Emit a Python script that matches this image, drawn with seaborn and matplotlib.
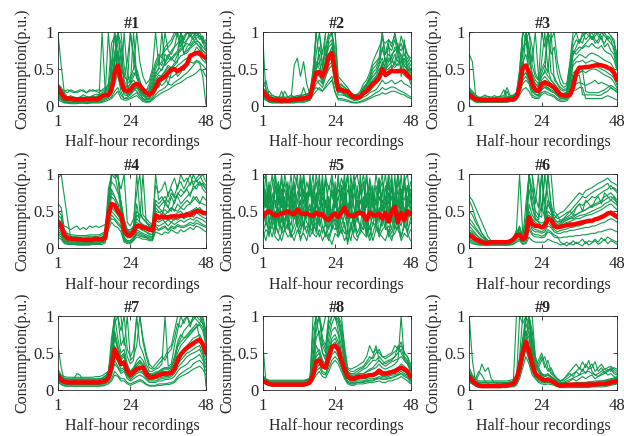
import numpy as np
import pandas as pd
import matplotlib
matplotlib.use("Agg")
import matplotlib.pyplot as plt
import seaborn as sns

# ==========================================================
# Data (consumption in p.u. x100, 48 half-hour recordings)
# ==========================================================

slots = list(range(1, 49))
titles = ["#1", "#2", "#3", "#4", "#5", "#6", "#7", "#8", "#9"]
x_ticks = [1, 24, 48]
y_ticks = [0, 0.5, 1]
y_tick_labels = ["0", "0.5", "1"]

centroid_1 = [25, 17, 11, 10, 10, 9, 9, 9, 9, 9, 9, 10, 9, 10, 13, 15,
              15, 22, 45, 55, 35, 22, 20, 22, 28, 30, 28, 22, 18, 15, 18, 25,
              35, 37, 40, 45, 50, 50, 47, 50, 53, 57, 68, 70, 72, 72, 68, 65]
centroid_2 = [20, 15, 10, 9, 8, 8, 7, 8, 7, 8, 9, 9, 10, 10, 11, 12,
              30, 45, 46, 40, 50, 68, 72, 45, 22, 22, 20, 20, 15, 12, 12, 13,
              17, 20, 25, 30, 33, 38, 50, 42, 45, 48, 47, 47, 48, 47, 42, 38]
centroid_3 = [15, 12, 9, 9, 8, 8, 8, 8, 8, 8, 8, 8, 8, 9, 9, 12,
              25, 52, 55, 45, 30, 22, 20, 30, 32, 30, 28, 25, 20, 15, 14, 14,
              15, 25, 45, 52, 52, 53, 53, 54, 55, 56, 55, 54, 52, 50, 45, 35]
centroid_4 = [35, 30, 18, 13, 13, 12, 12, 12, 11, 11, 11, 11, 13, 12, 12, 14,
              45, 60, 58, 50, 45, 25, 18, 17, 22, 30, 30, 28, 27, 25, 24, 45,
              42, 43, 42, 42, 43, 43, 43, 44, 44, 46, 45, 48, 50, 50, 48, 47]
centroid_5 = [42, 48, 50, 47, 44, 45, 47, 48, 50, 47, 46, 52, 48, 46, 47, 45,
              44, 48, 45, 46, 40, 38, 44, 47, 42, 48, 55, 45, 44, 43, 47, 48,
              46, 38, 48, 45, 44, 47, 40, 48, 36, 50, 56, 35, 48, 38, 50, 46]
centroid_6 = [18, 15, 12, 10, 8, 7, 7, 8, 8, 8, 8, 8, 8, 9, 12, 17,
              18, 12, 15, 42, 33, 30, 30, 28, 30, 40, 38, 30, 28, 29, 30, 31,
              32, 32, 33, 34, 35, 36, 37, 37, 39, 40, 42, 44, 47, 48, 45, 42]
centroid_7 = [20, 13, 11, 10, 10, 10, 10, 10, 10, 10, 10, 10, 10, 10, 11, 12,
              16, 32, 55, 45, 35, 37, 25, 20, 24, 28, 30, 30, 22, 17, 17, 18,
              20, 21, 22, 22, 23, 28, 40, 48, 53, 57, 60, 63, 66, 68, 62, 50]
centroid_8 = [12, 10, 8, 7, 7, 7, 7, 7, 7, 7, 7, 7, 7, 7, 8, 10,
              20, 38, 40, 32, 30, 45, 58, 60, 55, 40, 28, 18, 15, 15, 17, 18,
              18, 19, 20, 20, 22, 26, 22, 22, 23, 24, 25, 28, 30, 28, 25, 18]
centroid_9 = [18, 12, 8, 6, 5, 5, 5, 5, 5, 5, 5, 6, 6, 7, 8, 15,
              30, 50, 65, 52, 35, 22, 18, 15, 13, 14, 12, 10, 7, 6, 6, 7,
              7, 7, 7, 7, 7, 7, 7, 7, 7, 8, 8, 8, 9, 10, 11, 12]

days_1 = [
    "98 55 18 12 10 9 9 10 9 10 10 11 12 14 16 18 30 85 95 40 25 20 22 30 35 30 20 15 12 15 25 40 45 50 60 70 65 60 70 75 80 90 95 90 85 80 70 60",
    "20 15 8 6 5 5 5 6 6 5 5 6 7 8 100 20 12 20 60 100 70 30 15 18 25 20 15 10 8 10 20 30 25 35 40 30 45 50 40 45 55 60 65 70 80 75 70 65",
    "30 25 15 12 14 12 10 12 15 13 12 14 16 15 18 20 25 45 100 80 50 40 60 100 70 45 30 25 20 30 45 60 70 65 80 85 90 100 95 80 90 100 95 100 90 85 75 70",
    "15 10 6 5 5 5 4 5 5 5 5 5 6 6 8 10 12 15 30 45 20 10 12 15 20 25 18 10 8 8 12 20 30 28 32 40 38 42 45 50 48 55 60 58 62 60 55 50",
    "22 18 12 10 10 10 9 10 10 11 10 12 10 11 12 14 18 60 100 60 30 100 45 30 40 50 35 20 18 22 35 50 60 55 70 65 75 80 85 90 70 80 85 95 100 90 95 80",
    "10 8 5 4 4 4 4 4 4 4 4 5 5 5 6 8 10 12 20 25 15 10 10 12 15 18 12 8 6 6 10 15 20 22 25 30 28 32 35 38 42 45 50 55 60 58 40 2",
    "28 24 20 22 20 18 20 22 20 18 22 20 21 22 20 22 30 50 70 100 60 40 35 40 50 100 60 40 30 35 50 100 55 60 100 75 70 80 100 85 95 100 100 90 100 95 90 85",
    "18 12 8 7 7 6 6 7 7 7 8 7 8 9 10 12 15 25 45 70 35 22 18 20 28 32 25 18 12 14 22 35 42 40 48 55 52 58 62 68 70 72 78 82 85 80 75 72",
    "25 20 14 12 12 12 11 12 12 12 12 13 13 14 15 18 22 35 55 100 85 35 25 30 100 40 30 22 18 20 30 45 50 100 55 60 65 70 75 100 85 90 100 100 95 100 90 85",
    "12 9 6 5 5 5 5 5 5 5 6 6 6 7 8 10 12 18 35 55 28 15 14 16 22 26 20 14 10 10 16 28 35 38 42 48 45 50 55 58 62 65 68 72 70 68 62 58",
    "15 12 20 18 22 20 18 20 | 22 18 20 22 20 18 22 25 | 20 30 70 100 100 55 30 35 | 45 40 28 22 20 25 40 55 | 65 70 75 80 85 95 100 100 | 90 100 95 100 100 95 85 90",
    "8 6 4 4 3 3 3 4 | 4 3 4 4 4 4 5 6 | 8 10 15 20 10 8 8 10 | 12 14 10 6 5 5 8 12 | 15 18 20 22 25 28 30 32 | 35 38 40 42 45 50 48 40",
    "20 15 10 9 9 8 8 9 | 8 9 9 10 10 11 12 15 | 100 40 60 75 40 28 25 100 | 60 38 28 20 15 18 28 42 | 52 48 58 65 62 68 72 78 | 80 85 82 88 92 95 88 75",
    "18 14 10 8 8 8 7 8 | 8 8 8 9 9 10 11 14 | 16 20 40 50 25 18 16 18 | 24 28 22 16 12 12 18 30 | 38 42 46 52 50 55 60 100 | 72 75 80 85 88 86 80 75",
]
days_2 = [
    "95 20 12 10 8 8 7 8 7 8 8 9 10 10 11 12 40 60 50 45 60 90 100 50 22 20 18 15 12 10 10 12 18 22 28 35 40 45 60 50 55 60 58 55 60 50 45 40",
    "20 15 10 8 8 7 7 7 7 8 55 65 40 60 30 15 30 45 40 35 45 70 80 40 20 18 15 12 10 8 8 10 15 18 20 25 30 35 45 40 42 45 48 50 45 42 38 35",
    "15 10 6 5 5 5 4 5 5 5 5 6 6 7 8 10 25 100 60 40 100 100 100 60 30 25 22 18 14 12 12 15 25 30 40 55 60 65 100 70 80 75 90 70 95 80 70 60",
    "25 35 15 12 10 12 10 20 12 10 12 12 14 12 15 18 35 40 45 30 55 60 65 35 22 25 20 15 12 10 12 14 20 25 30 35 40 50 55 65 60 70 75 80 65 70 60 50",
    "18 12 8 8 7 7 6 7 6 7 7 8 8 9 10 11 20 30 35 30 40 55 60 30 15 15 14 12 10 8 8 9 12 14 18 20 22 28 35 30 32 35 30 32 35 30 28 25",
    "22 18 20 15 12 10 12 10 12 15 12 14 12 15 16 18 50 100 100 70 100 100 100 100 40 35 30 25 18 15 15 20 30 35 45 60 70 80 90 85 90 85 95 80 75 85 70 65",
    "10 8 5 4 4 4 4 4 4 4 4 5 5 5 6 8 15 20 25 20 28 35 40 20 10 10 9 8 6 5 5 6 8 10 12 15 18 20 25 22 24 26 25 22 20 18 15 12",
    "20 14 10 9 10 9 8 9 9 10 10 11 12 12 14 15 35 70 100 55 80 100 100 75 25 24 22 20 15 12 13 15 22 28 35 45 50 60 100 55 65 60 70 60 65 55 50 45",
    "30 25 8 6 6 6 6 6 6 6 7 7 7 8 9 10 30 35 30 25 40 50 55 30 18 20 16 14 10 8 9 11 15 20 25 30 35 40 50 45 85 50 60 85 40 90 45 30",
    "15 10 12 10 8 9 20 10 8 9 10 10 12 25 12 12 28 45 80 60 70 85 90 45 20 22 18 16 12 10 10 12 18 20 28 32 38 42 55 48 50 55 52 58 62 55 48 42",
    "12 9 7 6 6 6 5 6 | 6 6 6 7 7 8 9 10 | 45 100 100 100 100 100 100 100 | 30 28 25 20 15 12 12 14 | 22 30 38 50 55 65 75 70 | 90 80 100 75 85 70 65 55",
    "25 20 15 14 13 12 12 12 | 12 12 13 14 15 15 16 18 | 30 50 60 40 65 80 85 50 | 28 30 25 22 18 15 16 18 | 25 30 35 40 45 55 65 50 | 60 65 55 70 50 65 55 48",
    "10 8 6 5 5 5 5 5 | 5 5 5 6 6 6 7 8 | 20 25 22 20 25 30 35 18 | 8 8 7 6 5 4 4 5 | 6 8 10 12 14 15 18 16 | 18 20 20 18 16 15 12 10",
    "18 13 9 8 8 8 7 8 | 8 8 9 9 10 10 11 13 | 38 55 70 50 75 95 100 60 | 24 22 20 18 14 11 11 13 | 20 25 32 40 45 55 80 60 | 70 65 80 75 70 60 52 45",
]
days_3 = [
    "70 60 15 10 9 9 8 9 8 9 9 9 10 10 11 12 30 60 70 50 35 25 22 35 40 35 30 25 20 15 14 15 30 55 60 60 62 58 60 62 60 58 55 55 52 50 45 35",
    "15 12 8 7 7 7 7 7 7 7 7 8 8 8 9 12 35 100 100 80 40 30 25 60 100 50 35 30 25 18 16 18 40 80 90 85 100 90 95 100 90 85 95 80 85 75 70 50",
    "18 14 10 9 9 10 9 10 12 10 9 10 20 10 11 14 20 40 45 35 22 18 18 25 28 25 22 20 15 12 12 12 18 35 40 42 15 15 15 15 15 14 15 18 20 25 22 20",
    "20 18 12 10 12 15 12 10 10 12 14 22 12 12 14 16 45 100 90 100 55 40 35 40 45 100 45 40 30 22 20 22 45 70 80 90 85 100 95 90 100 95 90 100 90 85 80 60",
    "12 10 6 5 5 5 5 5 5 5 5 6 6 6 7 9 20 30 35 30 15 12 12 18 20 18 16 14 10 8 8 9 15 25 30 32 30 28 30 32 35 30 32 30 28 25 22 18",
    "25 20 15 12 12 12 13 12 14 12 13 14 25 14 15 18 50 100 100 60 45 35 30 45 55 45 100 35 30 25 22 24 50 75 70 75 80 85 90 95 85 90 100 95 90 95 85 70",
    "15 12 8 8 8 7 8 8 8 8 8 8 9 9 10 12 25 50 55 45 25 20 18 28 32 30 25 22 18 14 13 14 25 45 48 50 52 50 52 55 55 52 50 48 45 42 38 28",
    "18 15 10 9 10 9 9 10 9 10 10 10 11 12 12 14 28 45 100 40 28 22 20 30 35 32 28 25 20 15 14 16 35 60 65 70 68 65 70 72 70 68 65 62 60 58 50 40",
    "10 8 5 5 5 5 5 5 5 5 5 5 5 6 6 8 15 22 25 20 12 10 10 15 18 15 14 12 8 6 6 7 12 20 22 25 25 10 10 10 10 10 10 12 14 12 10 8",
    "22 18 12 10 10 11 10 11 11 11 12 12 12 13 14 16 40 70 100 75 60 100 40 50 60 100 70 80 45 30 25 28 55 90 100 85 95 100 100 90 95 100 90 85 95 90 75 55",
    "16 13 9 8 8 8 8 8 | 8 8 8 9 9 9 10 13 | 30 100 100 100 80 45 35 100 | 80 100 90 100 60 40 30 30 | 60 100 100 100 100 100 100 100 | 100 100 100 100 100 95 90 65",
    "14 11 8 7 7 7 7 7 | 7 7 7 7 8 8 9 11 | 22 35 40 32 20 16 15 22 | 25 22 20 18 14 10 10 11 | 20 40 45 45 48 20 18 18 | 18 18 20 22 25 28 25 22",
    "20 16 11 10 10 10 10 10 | 10 10 10 11 11 12 13 15 | 35 80 85 70 40 30 28 40 | 48 40 35 30 24 18 17 19 | 40 70 75 80 78 82 80 85 | 80 78 82 75 72 70 62 48",
    "13 10 7 6 6 6 6 6 | 6 6 6 7 7 7 8 10 | 22 40 45 38 20 15 14 22 | 26 24 20 18 14 10 10 11 | 20 40 42 45 48 45 48 50 | 50 48 45 42 40 38 32 24",
]
days_4 = [
    "95 100 70 40 15 12 12 12 11 12 12 12 13 12 14 16 50 80 70 60 45 20 15 15 20 30 28 25 22 20 18 40 40 42 45 40 42 45 48 50 45 48 50 52 55 50 48 45",
    "30 28 15 12 12 11 11 11 10 10 11 11 12 12 12 14 60 100 100 80 50 22 18 16 25 60 35 30 28 25 22 55 50 45 60 55 50 65 70 60 65 70 75 80 85 90 80 75",
    "35 30 30 28 25 28 30 25 28 25 30 28 30 28 30 32 45 60 55 45 40 30 25 25 30 35 32 30 30 28 30 60 55 50 45 50 55 50 60 55 60 65 60 70 65 60 70 65",
    "20 18 8 6 6 6 5 5 5 5 5 6 6 6 7 9 30 45 40 35 30 10 8 8 12 20 18 16 15 12 12 30 25 28 30 25 30 28 32 30 30 32 35 33 38 35 32 30",
    "50 45 20 15 15 14 15 14 13 14 14 13 15 14 15 18 70 100 95 100 60 40 25 20 30 100 50 40 35 30 28 100 65 70 60 75 80 70 85 90 80 90 100 85 95 100 90 85",
    "25 22 10 8 8 8 8 7 7 7 7 8 8 8 9 10 40 55 50 45 38 15 10 10 15 25 22 20 18 16 15 38 35 38 40 38 40 38 42 45 42 45 48 50 52 55 50 48",
    "40 35 18 15 14 14 13 13 13 13 13 14 14 14 15 18 55 75 70 60 55 30 22 20 25 40 35 32 30 28 25 50 48 50 52 48 55 52 50 55 52 58 60 65 70 62 60 58",
    "28 25 12 10 10 10 9 9 9 9 9 10 10 10 11 12 45 70 65 55 45 20 14 14 18 28 26 24 22 18 18 42 38 40 35 38 35 40 38 42 40 42 45 42 48 45 42 40",
    "15 12 6 5 5 5 4 4 4 4 4 5 5 5 5 7 25 35 30 28 22 8 6 6 10 15 14 12 12 10 10 22 20 18 22 20 25 22 20 25 22 25 28 25 30 28 25 22",
    "60 55 25 20 18 18 17 17 17 17 18 18 18 18 20 22 80 100 100 95 80 100 35 30 40 75 100 45 40 35 32 85 75 80 90 70 85 95 80 100 90 95 85 100 90 95 100 90",
    "33 30 15 12 12 12 12 12 | 11 11 11 12 12 12 13 15 | 50 100 100 100 55 25 18 18 | 22 45 40 100 35 30 28 60 | 55 60 65 55 70 60 75 70 | 75 80 70 85 80 90 85 80",
    "22 20 10 9 9 8 8 8 | 8 8 8 9 9 9 10 11 | 38 50 45 40 35 14 10 10 | 14 22 20 18 16 14 14 32 | 30 32 35 30 35 32 35 38 | 35 38 40 38 42 40 38 35",
    "45 40 22 18 16 16 15 15 | 15 15 16 16 16 16 18 20 | 65 90 85 75 65 35 25 22 | 30 50 45 40 35 32 30 65 | 60 65 70 62 75 68 72 80 | 75 82 88 90 92 85 88 80",
    "18 15 8 7 7 7 6 6 | 6 6 6 7 7 7 8 9 | 30 40 38 32 28 12 8 8 | 12 18 16 15 14 12 12 26 | 24 26 28 24 28 26 30 28 | 28 30 32 30 34 32 30 28",
]
days_5 = [
    "40 80 30 60 20 90 35 70 25 85 40 55 30 100 45 60 20 75 35 90 30 65 40 80 25 70 100 40 60 30 85 45 70 20 90 40 65 35 80 30 75 45 100 25 70 40 85 50",
    "60 30 90 45 100 35 70 25 80 40 65 30 95 50 75 20 85 45 60 100 35 70 30 90 50 40 75 20 85 55 35 100 30 70 45 85 25 95 40 60 35 90 30 70 50 100 30 75",
    "20 35 25 40 30 20 45 25 35 20 30 40 25 35 20 45 30 25 40 20 35 15 30 25 40 20 35 10 25 45 20 30 25 40 15 35 30 20 45 25 30 20 35 40 15 30 25 35",
    "70 55 85 60 75 90 65 80 55 70 85 60 100 70 55 80 65 90 60 75 55 85 70 60 80 65 90 55 70 85 60 75 90 60 70 55 85 65 75 100 60 80 55 90 70 65 85 70",
    "30 50 15 45 25 55 20 40 50 15 45 30 20 50 35 25 45 20 55 30 15 40 25 50 20 45 30 5 35 20 50 25 40 15 45 30 55 20 35 45 15 50 25 40 30 55 20 40",
    "50 100 45 75 40 60 95 45 70 50 90 45 60 80 40 100 50 65 45 85 60 40 95 55 70 45 60 100 40 75 55 85 45 100 60 40 70 95 50 65 85 40 70 55 100 45 65 90",
    "15 25 20 30 15 10 20 25 15 20 10 25 15 20 10 30 20 15 25 10 20 15 5 20 15 25 10 20 30 15 10 25 20 15 30 10 25 20 15 10 25 15 20 30 10 20 15 25",
    "85 60 70 100 55 80 60 90 65 100 55 75 85 60 90 70 100 55 80 65 90 60 75 55 90 70 55 80 65 100 70 60 85 55 95 70 60 80 100 55 90 65 75 100 60 85 55 80",
    "35 45 60 30 50 40 25 55 45 30 60 35 50 25 55 40 35 50 30 45 60 25 50 35 55 30 45 60 25 50 40 30 60 35 25 50 40 55 30 45 40 25 60 35 45 30 50 40",
    "45 70 35 55 65 30 80 50 35 60 75 40 55 30 70 85 40 55 100 45 30 60 50 75 35 85 45 30 100 55 40 65 50 30 75 60 35 70 55 40 100 35 60 45 80 35 70 55",
    "100 55 75 40 85 60 100 50 | 90 45 70 100 40 80 60 95 | 45 70 90 50 100 45 80 60 | 100 50 85 45 70 90 40 80 | 55 100 45 75 60 90 50 85 | 45 100 55 80 40 95 60 70",
    "25 10 30 15 35 20 10 25 | 30 15 20 35 10 25 30 15 | 25 35 15 30 20 10 25 35 | 15 30 20 25 10 35 15 20 | 30 25 10 20 35 15 25 30 | 20 10 30 25 15 35 20 10",
    "55 40 65 50 35 70 45 60 | 40 75 50 35 65 45 60 50 | 70 35 55 45 65 50 35 60 | 45 55 70 40 60 35 65 50 | 40 60 55 70 35 50 65 45 | 55 70 40 60 50 35 55 65",
    "90 100 60 85 100 70 55 100 | 75 60 100 85 70 100 65 90 | 60 100 75 55 95 80 100 70 | 65 95 80 100 55 90 100 75 | 100 70 85 60 100 75 90 65 | 100 85 65 100 75 90 100 60",
]
days_6 = [
    "70 65 55 45 35 25 15 10 8 8 8 8 8 9 10 20 30 15 20 100 60 40 35 30 35 60 50 35 30 32 35 38 40 42 45 48 50 52 55 58 60 62 65 70 72 75 70 65",
    "20 18 12 10 8 7 7 8 8 8 8 8 8 9 12 18 20 12 15 45 35 30 30 28 30 40 38 30 28 28 30 30 32 32 34 34 36 36 38 38 40 42 44 46 48 50 48 45",
    "10 8 6 5 5 4 4 4 4 4 4 4 4 5 6 10 12 6 8 25 18 15 15 14 15 22 20 15 14 14 15 15 16 16 17 17 18 18 19 20 20 22 22 24 25 26 24 22",
    "35 30 25 20 15 12 10 10 10 10 10 10 10 11 14 22 25 18 22 100 100 45 40 100 45 100 55 40 35 38 40 42 45 50 55 60 58 62 65 70 68 72 75 78 80 85 80 75",
    "15 12 10 8 7 6 6 7 7 7 7 7 7 8 10 15 18 10 12 35 25 22 22 20 22 30 28 22 20 20 22 22 24 24 25 26 27 28 28 30 30 32 34 35 38 40 38 35",
    "25 22 18 15 12 10 9 9 9 9 9 9 9 10 12 18 22 15 40 100 80 60 100 50 100 100 60 45 40 42 45 48 50 55 60 65 70 68 72 75 78 80 82 85 88 80 82 78",
    "12 10 8 6 5 5 5 5 5 5 5 5 5 6 8 12 15 8 10 30 20 18 18 16 18 25 22 18 16 8 5 8 5 10 6 8 12 6 10 8 12 8 14 10 15 12 10 8",
    "50 45 35 28 20 15 10 9 9 9 9 9 9 10 12 20 28 14 18 60 45 38 36 34 36 50 45 36 32 34 36 38 40 40 42 44 45 46 48 50 52 54 56 60 62 65 62 58",
    "18 15 10 8 7 6 6 6 6 6 6 6 6 7 9 14 16 9 12 40 28 25 24 22 25 35 30 25 22 24 25 26 28 28 30 30 32 34 35 36 38 40 42 45 48 50 46 42",
    "30 25 20 15 10 8 8 8 8 8 8 8 8 9 11 16 20 12 60 100 70 50 45 42 100 70 50 40 45 35 40 45 50 45 55 60 50 65 60 55 65 70 60 75 70 65 70 60",
    "65 55 40 30 20 14 10 9 | 9 9 9 9 9 10 13 25 | 100 20 25 100 100 70 55 100 | 60 100 100 50 45 48 50 55 | 60 65 70 75 72 78 80 82 | 85 88 90 92 95 90 88 85",
    "8 6 5 4 4 4 4 4 | 4 4 4 4 4 4 5 8 | 10 5 6 15 10 8 8 8 | 8 12 10 8 7 4 6 3 | 7 4 8 5 3 9 4 7 | 10 5 8 12 6 10 8 5",
    "22 20 15 12 10 8 8 8 | 8 8 8 8 8 9 11 17 | 20 13 30 80 55 40 38 60 | 40 65 55 38 35 36 38 40 | 42 44 46 48 50 52 55 56 | 58 60 62 65 68 70 66 62",
    "40 35 28 22 16 12 9 9 | 9 9 9 9 9 10 12 18 | 25 14 16 50 40 35 32 30 | 32 45 42 32 30 30 32 35 | 36 38 40 40 42 44 45 46 | 48 50 52 55 58 60 56 52",
]
days_7 = [
    "60 30 12 10 10 10 10 10 10 10 10 10 10 10 11 12 15 30 60 45 35 40 25 20 25 30 32 30 22 18 18 18 20 22 22 22 24 30 45 50 55 60 65 70 72 75 65 50",
    "18 12 10 9 9 15 22 20 12 9 9 9 9 9 10 11 15 40 100 70 50 55 35 25 30 40 45 40 30 20 20 22 25 28 30 28 30 40 60 70 80 85 90 95 100 100 90 70",
    "15 10 8 7 7 7 7 7 7 7 7 7 7 7 8 9 12 20 35 30 22 25 15 12 15 18 20 18 14 10 10 10 12 12 14 14 15 18 25 30 32 35 40 42 45 48 40 30",
    "25 18 15 14 14 14 14 14 14 14 14 14 14 14 15 16 20 60 100 100 60 70 45 35 40 100 60 50 35 25 25 28 30 35 100 32 35 60 80 100 90 100 85 100 95 90 100 80",
    "12 8 6 5 5 5 5 5 5 5 5 5 5 5 6 8 10 15 25 20 15 15 10 8 10 12 14 12 8 6 6 6 8 8 8 9 10 12 18 22 25 28 30 35 38 40 35 25",
    "20 15 12 12 12 12 12 12 12 12 12 12 12 12 13 15 18 35 70 55 40 45 28 22 28 35 38 35 25 20 20 20 22 25 25 25 28 35 50 60 65 70 75 80 85 88 80 60",
    "22 16 14 13 13 13 13 14 13 13 14 13 14 14 15 18 25 50 90 100 100 60 100 40 45 60 100 70 50 35 30 35 40 45 40 50 55 70 90 85 95 100 90 100 100 95 90 75",
    "15 10 9 8 8 8 8 8 8 8 8 8 8 8 9 10 14 25 45 38 28 30 20 16 20 24 26 24 18 14 14 15 16 17 18 18 20 25 35 40 45 50 52 55 58 60 50 40",
    "28 20 18 17 17 17 17 17 17 17 17 17 18 18 19 22 25 45 80 60 45 50 30 25 30 35 40 35 28 22 22 24 25 28 30 30 32 45 65 75 70 75 80 85 90 70 60 5",
    "10 7 5 5 5 5 5 5 5 5 5 5 5 5 5 6 8 12 20 18 12 12 8 6 8 10 12 10 7 5 5 5 6 6 7 7 8 10 15 18 20 22 25 28 30 32 28 20",
    "20 14 12 11 11 11 11 11 | 11 11 11 11 11 11 12 14 | 22 70 100 100 80 100 55 45 | 55 100 100 65 45 30 28 30 | 35 40 45 55 60 80 100 100 | 100 100 100 100 100 100 95 80",
    "14 10 8 7 7 7 7 7 | 7 7 7 7 7 7 8 9 | 12 22 40 32 25 28 18 14 | 18 22 24 22 16 12 12 12 | 14 15 16 16 18 22 30 35 | 40 45 48 50 52 55 45 35",
    "24 18 16 15 15 15 15 15 | 15 15 15 15 15 15 16 19 | 22 40 75 55 42 48 30 24 | 28 32 36 32 26 20 20 22 | 24 26 28 28 30 40 58 65 | 70 72 78 82 86 90 85 65",
    "16 11 10 9 9 9 9 9 | 9 9 9 9 9 9 10 11 | 15 28 55 42 32 35 22 18 | 22 26 30 28 20 16 16 16 | 18 20 20 20 22 28 40 48 | 52 56 60 62 65 68 55 45",
]
days_8 = [
    "65 12 8 7 7 7 7 7 7 7 7 7 7 7 8 10 30 60 50 35 30 60 80 85 75 50 30 18 15 15 17 18 18 19 20 20 22 25 22 22 23 24 25 28 30 28 25 18",
    "12 10 8 7 7 7 7 7 7 7 7 7 7 7 8 10 100 100 70 50 45 100 100 100 100 80 45 25 20 18 20 22 22 24 26 28 30 35 30 28 30 32 35 40 100 40 35 25",
    "15 12 10 9 9 9 9 9 9 9 9 9 9 9 10 12 20 40 45 35 30 45 60 65 55 40 25 16 12 12 14 15 15 16 18 18 20 22 20 20 20 22 22 25 28 25 22 16",
    "10 8 6 5 5 5 5 5 5 5 5 5 5 5 6 8 15 25 30 22 20 30 40 45 40 30 18 10 8 8 10 10 10 11 12 12 14 15 14 14 15 16 18 20 22 20 18 12",
    "18 14 12 12 12 12 12 12 12 12 12 12 12 12 13 15 40 80 100 60 50 90 100 100 90 70 40 25 22 22 25 28 30 35 40 45 60 40 35 38 40 42 45 50 55 45 40 30",
    "14 11 9 8 8 8 8 8 8 8 8 8 8 8 9 11 25 50 55 40 35 55 70 75 65 45 28 18 15 15 17 18 18 20 22 22 24 28 25 24 25 26 28 30 35 32 28 20",
    "12 10 8 7 7 7 7 7 7 7 7 7 7 7 8 9 18 35 40 30 28 40 55 60 50 35 20 12 10 10 12 12 12 14 15 15 16 18 16 16 18 20 20 22 25 22 20 14",
    "20 15 13 13 13 13 13 13 13 13 13 13 13 13 14 16 60 100 100 80 100 100 100 100 100 100 60 30 28 30 32 35 38 45 60 50 55 50 45 45 48 50 60 55 65 50 45 35",
    "10 8 6 6 6 6 6 6 6 6 6 6 6 6 7 8 12 20 25 18 16 25 35 40 35 25 15 8 6 6 8 8 8 9 10 10 11 12 10 10 12 12 14 15 18 15 12 8",
    "16 12 10 10 10 10 10 10 10 10 10 10 10 10 11 13 35 70 80 50 40 70 90 100 80 60 35 22 18 18 20 22 22 25 28 30 35 40 35 32 35 38 40 42 45 40 35 25",
    "14 11 9 8 8 8 8 8 | 8 8 8 8 8 8 9 11 | 80 100 100 70 60 100 100 100 | 100 90 55 25 20 20 22 25 | 28 30 35 40 40 45 40 35 | 38 40 45 60 50 42 38 28",
    "11 9 7 6 6 6 6 6 | 6 6 6 6 6 6 7 9 | 15 28 35 25 22 35 48 52 | 45 32 18 10 8 8 10 10 | 11 12 13 13 15 16 14 14 | 16 17 18 20 22 18 16 10",
    "17 13 11 11 11 11 11 11 | 11 11 11 11 11 11 12 14 | 45 90 100 65 55 80 100 100 | 95 75 45 28 25 25 28 30 | 32 38 45 42 50 55 45 42 | 45 48 52 55 60 50 45 32",
    "13 10 8 7 7 7 7 7 | 7 7 7 7 7 7 8 10 | 22 45 50 38 32 50 65 70 | 60 42 25 15 12 12 14 15 | 15 16 18 18 20 22 18 18 | 20 22 22 25 28 25 22 15",
]
days_9 = [
    "100 40 10 6 5 5 5 5 5 5 5 5 6 6 7 10 20 40 70 50 30 20 15 12 10 12 10 8 6 5 5 6 6 6 6 6 6 6 6 7 7 7 7 8 9 10 11 12",
    "20 15 12 20 35 25 30 15 10 8 8 8 8 8 10 100 100 90 100 80 50 30 25 20 18 20 18 15 10 8 8 8 8 8 8 8 8 9 9 9 10 10 10 11 12 14 15 16",
    "15 10 6 4 4 4 4 4 4 4 4 4 4 5 5 8 25 50 100 100 60 35 25 18 15 16 14 12 8 5 5 5 5 5 5 5 5 5 5 6 6 6 6 6 7 8 9 10",
    "25 18 12 10 10 10 10 10 10 10 10 10 10 10 12 18 35 60 80 60 40 30 40 50 35 25 30 20 15 12 15 18 22 18 25 30 25 35 28 30 38 25 30 22 28 25 30 28",
    "12 8 5 3 3 3 3 3 3 3 3 3 3 4 4 6 15 30 45 35 20 15 10 8 7 8 7 6 4 3 3 3 3 3 3 3 3 3 3 4 4 4 4 4 5 6 7 8",
    "18 14 10 8 8 8 8 8 8 8 8 8 8 9 10 14 30 55 100 100 100 45 30 22 20 22 18 15 12 10 10 10 12 15 12 15 18 15 18 20 15 18 20 22 25 28 22 20",
    "10 8 15 25 20 12 8 6 6 6 6 6 6 7 8 12 28 45 65 100 55 25 18 15 12 14 12 10 7 6 6 6 6 6 7 7 7 7 7 8 8 8 8 9 10 11 12 14",
    "22 16 10 8 7 7 7 7 7 7 7 7 7 8 9 15 45 100 100 100 70 40 35 45 30 40 25 20 15 12 14 20 25 30 35 28 38 30 40 25 20 18 22 25 20 22 18 15",
    "15 12 8 6 6 6 6 6 6 6 6 6 6 7 8 12 22 40 60 45 28 18 14 12 10 11 10 8 6 5 5 6 6 7 8 8 9 9 10 10 10 11 12 12 13 14 15 16",
    "30 20 15 12 12 12 12 12 12 12 12 12 12 13 14 20 40 70 100 90 60 35 25 20 18 20 17 14 12 10 10 12 14 16 18 20 22 24 25 22 20 22 25 28 30 32 28 25",
    "16 12 8 6 6 6 6 6 | 6 6 6 6 6 7 8 12 | 100 100 100 100 80 45 30 22 | 18 20 16 14 10 8 8 8 | 8 9 10 10 10 10 11 11 | 12 12 12 13 14 15 16 18",
    "14 10 7 5 5 5 5 5 | 5 5 5 5 5 6 7 10 | 25 45 80 70 40 25 20 15 | 12 14 12 10 7 6 6 6 | 6 6 6 7 7 7 7 8 | 8 8 9 9 10 11 12 13",
    "24 18 12 10 10 10 10 10 | 10 10 10 10 10 11 12 18 | 38 65 90 75 50 35 30 40 | 45 30 22 18 14 12 12 15 | 18 22 25 20 28 22 30 35 | 25 30 35 28 25 30 25 22",
    "12 9 6 4 4 4 4 4 | 4 4 4 4 4 5 6 9 | 20 38 55 40 25 16 12 10 | 9 10 9 7 5 4 4 4 | 4 4 4 5 5 5 5 5 | 5 5 6 6 6 7 8 9",
]

centroids = [centroid_1, centroid_2, centroid_3, centroid_4, centroid_5,
             centroid_6, centroid_7, centroid_8, centroid_9]
days = [days_1, days_2, days_3, days_4, days_5, days_6, days_7, days_8, days_9]

# ==========================================================
# Style
# ==========================================================

sns.set_theme(style="ticks")
plt.rcParams["font.family"] = ["Liberation Serif", "DejaVu Serif"]
plt.rcParams["axes.linewidth"] = 0.6

green = "#0E9A4C"
red = "#FF0000"

# ==========================================================
# Figure
# ==========================================================

fig = plt.figure(figsize=(6.24, 4.36), dpi=100)

lefts = [0.093, 0.421, 0.752]
bottoms = [0.757, 0.431, 0.106]
w, h = 0.237, 0.169

for k in range(9):
    r, c = divmod(k, 3)
    ax = fig.add_axes([lefts[c], bottoms[r], w, h])

    rows = []
    for d, s in enumerate(days[k]):
        vals = np.array(s.replace("|", " ").split(), dtype=float) / 100
        assert len(vals) == 48, (k, d, len(vals))
        rows.append(pd.DataFrame({"slot": slots, "value": vals, "day": d}))
    df = pd.concat(rows)

    sns.lineplot(data=df, x="slot", y="value", units="day", estimator=None,
                 color=green, lw=0.8, ax=ax, legend=False)

    cent = pd.DataFrame({"slot": slots, "value": np.array(centroids[k]) / 100})
    sns.lineplot(data=cent, x="slot", y="value", color=red, lw=3.2, ax=ax)

    ax.set_xlim(1, 48)
    ax.set_ylim(0, 1)
    ax.set_xticks(x_ticks)
    ax.set_yticks(y_ticks)
    ax.set_yticklabels(y_tick_labels)
    ax.tick_params(direction="in", top=True, right=True, length=3,
                   width=0.6, labelsize=12)
    ax.tick_params(axis="x", pad=6)
    ax.tick_params(axis="y", pad=3)
    for sp in ax.spines.values():
        sp.set_color("#262626")

    ax.set_title(titles[k], fontsize=11.5, fontweight="bold", pad=3)
    ax.set_xlabel("Half-hour recordings", fontsize=11.5, labelpad=3)
    ax.set_ylabel("Consumption(p.u.)", fontsize=11.5, labelpad=2)

fig.savefig("out.png", dpi=100)
